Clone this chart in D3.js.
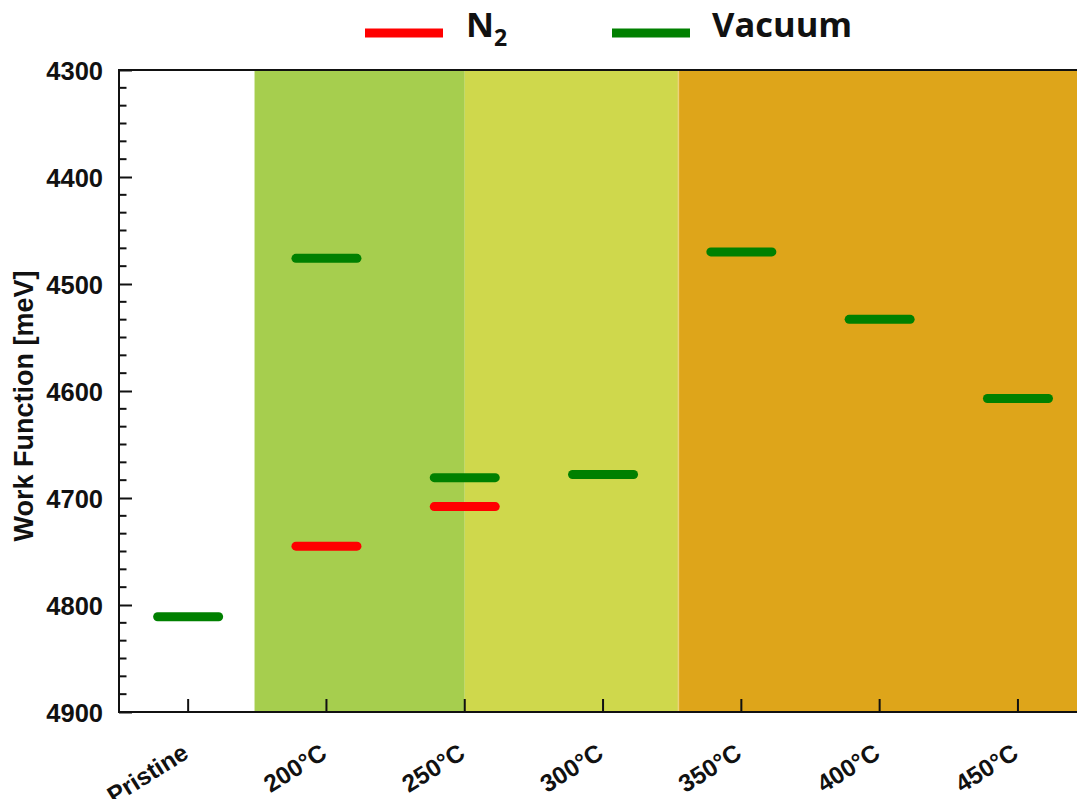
<!DOCTYPE html>
<html>
<head>
<meta charset="utf-8">
<script src="https://cdn.jsdelivr.net/npm/d3@7/dist/d3.min.js"></script>
<style>
  html, body { margin: 0; padding: 0; background: #fff; }
  svg { display: block; }
</style>
</head>
<body>
<svg id="chart" width="1077" height="799"></svg>
<script>
// Work function per annealing condition (meV)
const categories = ["Pristine", "200°C", "250°C", "300°C", "350°C", "400°C", "450°C"];
const vacuumValues = [4811, 4476, 4681, 4678, 4470, 4533, 4607];
const n2Values = [null, 4745, 4708, null, null, null, null];
const yTickValues = [4300, 4400, 4500, 4600, 4700, 4800, 4900];

// Shaded temperature regimes, in category-index units
const regionStarts = [0.48, 2.0, 3.545];
const regionEnds = [2.0, 3.545, 7.5];
const regionColors = ["#a6ce4e", "#cfd84c", "#dea51a"];

(function draw() {
  const svg = d3.select("#chart");
  const W = 1077;
  const plotLeft = 119, plotTop = 70, plotBottom = 712;
  const step = 138.3;
  const plotRight = plotLeft + step * categories.length;

  const x = d3.scaleBand().domain(categories).range([plotLeft, plotRight]).paddingInner(0).paddingOuter(0);
  const cx = c => x(c) + x.bandwidth() / 2;
  const xIdx = d3.scaleLinear().domain([0, 1]).range([cx(categories[0]), cx(categories[1])]);
  const y = d3.scaleLinear().domain([4300, 4900]).range([plotTop, plotBottom]);

  // Background regions
  svg.append("g").selectAll("rect")
    .data(regionStarts.map((s, i) => ({ s, e: regionEnds[i], c: regionColors[i] })))
    .join("rect")
    .attr("x", d => xIdx(d.s))
    .attr("y", plotTop)
    .attr("width", d => xIdx(d.e) - xIdx(d.s))
    .attr("height", plotBottom - plotTop)
    .attr("fill", d => d.c);

  // faint light edge at the start of the last region
  svg.append("line")
    .attr("x1", xIdx(regionStarts[2])).attr("x2", xIdx(regionStarts[2]))
    .attr("y1", plotTop).attr("y2", plotBottom)
    .attr("stroke", "#ecd27a").attr("stroke-width", 1.5);

  // Level markers
  const half = 30.5;
  function drawLevels(values, color) {
    const pts = categories.map((c, i) => ({ c, v: values[i] })).filter(d => d.v != null);
    svg.append("g").selectAll("line")
      .data(pts)
      .join("line")
      .attr("x1", d => cx(d.c) - half)
      .attr("x2", d => cx(d.c) + half)
      .attr("y1", d => y(d.v))
      .attr("y2", d => y(d.v))
      .attr("stroke", color)
      .attr("stroke-width", 9)
      .attr("stroke-linecap", "round");
  }
  drawLevels(n2Values, "#ff0000");
  drawLevels(vacuumValues, "#008000");

  // Y axis: major ticks every 100 with labels, minor ticks in between
  const yMinor = d3.range(4300, 4900.01, 100 / 6).filter(v => Math.abs(v - Math.round(v / 100) * 100) > 1);
  svg.append("g").selectAll("line").data(yMinor).join("line")
    .attr("x1", plotLeft).attr("x2", plotLeft + 7.5)
    .attr("y1", d => y(d)).attr("y2", d => y(d))
    .attr("stroke", "#111").attr("stroke-width", 2);

  const yAxis = d3.axisRight(y).tickValues(yTickValues).tickSize(13).tickFormat("");
  svg.append("g").attr("transform", `translate(${plotLeft},0)`).call(yAxis)
    .call(g => g.select(".domain").remove())
    .call(g => g.selectAll(".tick line").attr("stroke", "#111").attr("stroke-width", 2));

  svg.append("g").selectAll("text").data(yTickValues).join("text")
    .attr("x", 103)
    .attr("y", d => y(d) + 1)
    .attr("text-anchor", "end")
    .attr("dominant-baseline", "central")
    .attr("font-family", "Liberation Sans, Arial, sans-serif")
    .attr("font-weight", "bold")
    .attr("font-size", 25.5)
    .attr("fill", "#111")
    .text(d => d);

  // X axis ticks (pointing up) and rotated labels
  const xAxis = d3.axisTop(x).tickSize(13).tickFormat("");
  svg.append("g").attr("transform", `translate(0,${plotBottom})`).call(xAxis)
    .call(g => g.select(".domain").remove())
    .call(g => g.selectAll(".tick line").attr("stroke", "#111").attr("stroke-width", 2));

  svg.append("g").selectAll("text").data(categories).join("text")
    .attr("transform", d => `translate(${cx(d) + 2},${plotBottom + 45}) rotate(-32)`)
    .attr("text-anchor", "end")
    .attr("font-family", "Liberation Sans, Arial, sans-serif")
    .attr("font-weight", "bold")
    .attr("font-size", 24.5)
    .attr("fill", "#111")
    .text(d => d);

  // Frame lines
  svg.append("line").attr("x1", plotLeft).attr("x2", W).attr("y1", plotTop).attr("y2", plotTop)
    .attr("stroke", "#111").attr("stroke-width", 2);
  svg.append("line").attr("x1", plotLeft).attr("x2", W).attr("y1", plotBottom).attr("y2", plotBottom)
    .attr("stroke", "#111").attr("stroke-width", 2);
  svg.append("line").attr("x1", plotLeft).attr("x2", plotLeft).attr("y1", plotTop - 1).attr("y2", plotBottom + 1)
    .attr("stroke", "#111").attr("stroke-width", 2);

  // Y axis title
  svg.append("text")
    .attr("transform", "translate(33,406) rotate(-90)")
    .attr("text-anchor", "middle")
    .attr("font-family", "Liberation Sans, Arial, sans-serif")
    .attr("font-weight", "bold")
    .attr("font-size", 27)
    .attr("fill", "#111")
    .text("Work Function [meV]");

  // Legend
  const legendItems = [
    { label: "N", sub: "2", color: "#ff0000", x0: 365, tx: 466 },
    { label: "Vacuum", sub: null, color: "#008000", x0: 612, tx: 712 }
  ];
  const lg = svg.append("g");
  legendItems.forEach(d => {
    lg.append("line")
      .attr("x1", d.x0).attr("x2", d.x0 + 78)
      .attr("y1", 33).attr("y2", 33)
      .attr("stroke", d.color).attr("stroke-width", 9);
    const t = lg.append("text")
      .attr("x", d.tx).attr("y", 37)
      .attr("font-family", "Open Sans, Liberation Sans, sans-serif")
      .attr("font-weight", "bold")
      .attr("font-size", 34.5)
      .attr("fill", "#111")
      .text(d.label);
    if (d.sub) {
      t.append("tspan").attr("font-size", 23).attr("dy", 9).text(d.sub);
    }
  });
})();
</script>
</body>
</html>
